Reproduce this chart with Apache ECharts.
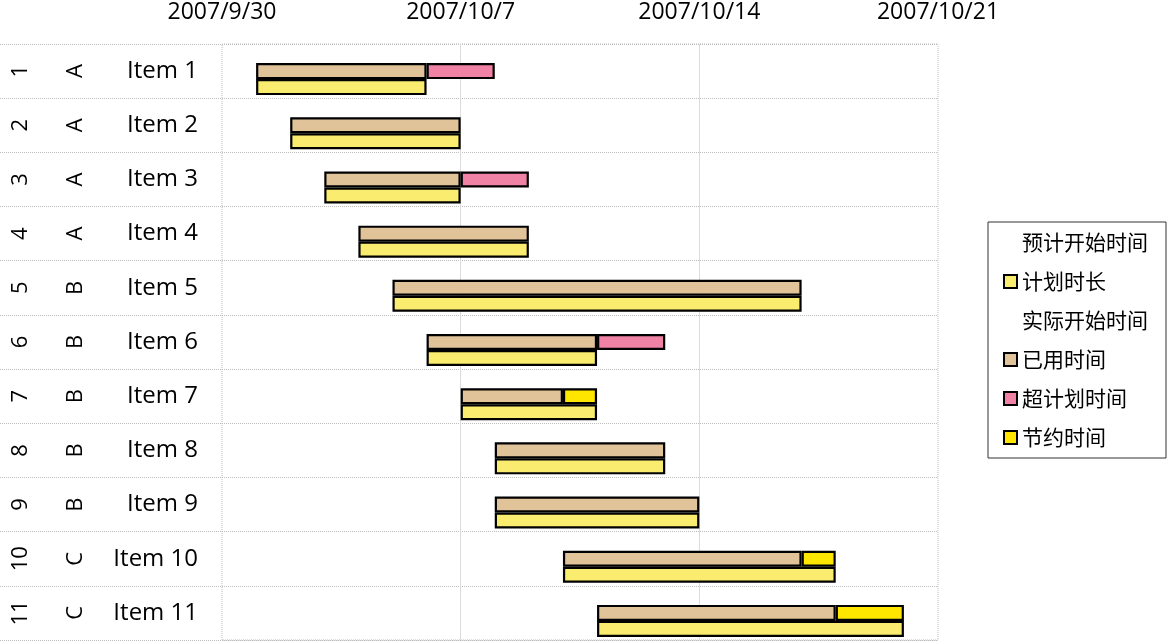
<!DOCTYPE html>
<html>
<head>
<meta charset="utf-8">
<script src="https://cdn.jsdelivr.net/npm/echarts@6/dist/echarts.min.js"></script>
<style>html,body{margin:0;padding:0;background:#fff}#c{width:1167px;height:643px}</style>
</head>
<body>
<div id="c"></div>
<script>
const itemNumbers = ['1','2','3','4','5','6','7','8','9','10','11'];
const groups = ['A','A','A','A','B','B','B','B','B','C','C'];
const items = ['Item 1','Item 2','Item 3','Item 4','Item 5','Item 6','Item 7','Item 8','Item 9','Item 10','Item 11'];
const baseDate = '2007/9/30';
const tickLabels = ['2007/9/30','2007/10/7','2007/10/14','2007/10/21'];
const plannedStart = ['2007/10/1','2007/10/2','2007/10/3','2007/10/4','2007/10/5','2007/10/6','2007/10/7','2007/10/8','2007/10/8','2007/10/10','2007/10/11'];
const plannedDays = [5,5,4,5,12,5,4,5,6,8,9];
const actualStart = ['2007/10/1','2007/10/2','2007/10/3','2007/10/4','2007/10/5','2007/10/6','2007/10/7','2007/10/8','2007/10/8','2007/10/10','2007/10/11'];
const usedDays = [5,5,4,5,12,5,3,5,6,7,7];
const overDays = [2,0,2,0,0,2,0,0,0,0,0];
const savedDays = [0,0,0,0,0,0,1,0,0,1,2];

function toUTC(s){ const p = s.split('/').map(Number); return Date.UTC(p[0], p[1]-1, p[2]); }
function dayOffset(s){ return (toUTC(s) - toUTC(baseDate)) / 86400000; }
function nz(v){ return v ? v : null; }

const FONT = 'Open Sans';
const CJK = 'Noto Sans CJK SC';
const BAR_W = 16;
const border = { borderColor: '#000', borderWidth: 2.2 };
const hidden = { color: 'transparent', borderWidth: 0 };

const chart = echarts.init(document.getElementById('c'), null, { renderer: 'canvas' });
chart.setOption({
  animation: false,
  backgroundColor: '#fff',
  grid: [
    { left: 222, right: 229, top: 44, bottom: 3, show: true, borderColor: '#bdbdbd', borderWidth: 1, borderType: 'dotted' },
    { left: 0, width: 222, top: 44, bottom: 3, show: false }
  ],
  legend: {
    orient: 'vertical',
    left: 988, top: 222,
    padding: [10, 18, 10, 15],
    itemGap: 18,
    itemWidth: 13, itemHeight: 13,
    icon: 'rect',
    borderColor: '#333', borderWidth: 1,
    textStyle: { fontFamily: CJK, fontSize: 21, lineHeight: 21, color: '#000' },
    data: ['预计开始时间','计划时长','实际开始时间','已用时间','超计划时间','节约时间']
  },
  xAxis: [
    { gridIndex: 0, type: 'value', position: 'top', min: 0, max: 21, interval: 7,
      axisLine: { show: false }, axisTick: { show: false },
      axisLabel: { formatter: v => tickLabels[Math.round(v / 7)], fontFamily: FONT, fontSize: 23, color: '#000', margin: 20 },
      splitLine: { show: true, showMinLine: false, showMaxLine: false, lineStyle: { color: '#dcdcdc', width: 1, type: 'solid' } } },
    { gridIndex: 1, type: 'value', show: false, min: 0, max: 1 }
  ],
  yAxis: [
    { gridIndex: 0, type: 'category', data: items, inverse: true, position: 'left',
      axisLine: { show: false }, axisTick: { show: false },
      axisLabel: { interval: 0, fontFamily: FONT, fontSize: 24, color: '#000', margin: 24 },
      splitLine: { show: true, lineStyle: { color: '#bdbdbd', type: 'dotted', width: 1 } } },
    { gridIndex: 0, type: 'category', data: itemNumbers, inverse: true, position: 'left', offset: 182,
      axisLine: { show: false }, axisTick: { show: false },
      axisLabel: { interval: 0, rotate: 90, fontFamily: FONT, fontSize: 22, color: '#000', margin: 8 },
      splitLine: { show: false } },
    { gridIndex: 0, type: 'category', data: groups, inverse: true, position: 'left', offset: 127,
      axisLine: { show: false }, axisTick: { show: false },
      axisLabel: { interval: 0, rotate: 90, fontFamily: FONT, fontSize: 22, color: '#000', margin: 8 },
      splitLine: { show: false } },
    { gridIndex: 1, type: 'category', data: items, inverse: true, position: 'left',
      axisLine: { show: false }, axisTick: { show: false }, axisLabel: { show: false },
      splitLine: { show: true, lineStyle: { color: '#bdbdbd', type: 'dotted', width: 1 } } }
  ],
  series: [
    { name: 'pad', type: 'bar', stack: 'pad', barWidth: BAR_W, barGap: '0%', silent: true,
      itemStyle: hidden, data: items.map(() => null) },
    { name: '实际开始时间', type: 'bar', stack: 'actual', barWidth: BAR_W, barGap: '0%', silent: true,
      itemStyle: hidden, data: actualStart.map(dayOffset) },
    { name: '已用时间', type: 'bar', stack: 'actual', barWidth: BAR_W, barGap: '0%',
      itemStyle: Object.assign({ color: '#E1C39A' }, border), data: usedDays.map(nz) },
    { name: '超计划时间', type: 'bar', stack: 'actual', barWidth: BAR_W, barGap: '0%',
      itemStyle: Object.assign({ color: '#F082A6' }, border), data: overDays.map(nz) },
    { name: '节约时间', type: 'bar', stack: 'actual', barWidth: BAR_W, barGap: '0%',
      itemStyle: Object.assign({ color: '#FFE600' }, border), data: savedDays.map(nz) },
    { name: '预计开始时间', type: 'bar', stack: 'plan', barWidth: BAR_W, barGap: '0%', silent: true,
      itemStyle: hidden, data: plannedStart.map(dayOffset) },
    { name: '计划时长', type: 'bar', stack: 'plan', barWidth: BAR_W, barGap: '0%',
      itemStyle: Object.assign({ color: '#FAEC6E' }, border), data: plannedDays.map(nz) }
  ]
});
</script>
</body>
</html>
